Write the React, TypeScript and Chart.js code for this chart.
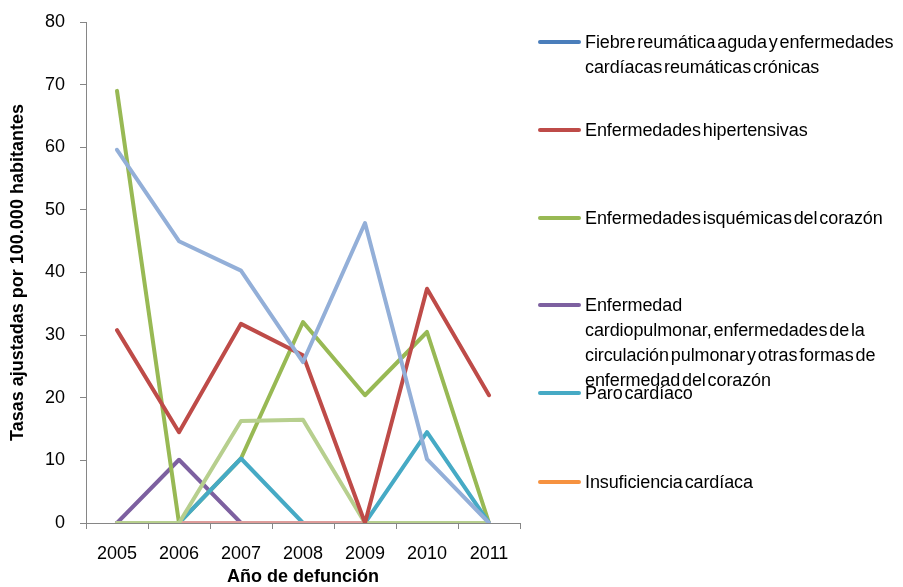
import React, { useEffect, useRef } from "react";
import { Chart, registerables } from "chart.js";

Chart.register(...registerables);

const years = ["2005", "2006", "2007", "2008", "2009", "2010", "2011"];

const fiebreReumatica = [0, 0, 0, 0, 0, 0, 0];
const hipertensivas = [30.8, 14.5, 31.8, 26.8, 0, 37.4, 20.4];
const isquemicas = [69, 0, 10.3, 32.1, 20.4, 30.5, 0];
const cardiopulmonar = [0, 10.1, 0, 0, 0, 0, 0];
const paroCardiaco = [0, 0, 10.3, 0, 0, 14.5, 0];
const insuficiencia = [0, 0, 0, 0, 0, 0, 0];
const serie7 = [59.6, 45, 40.3, 25.7, 47.9, 10.2, 0];
const serie8 = [0, 0, 0, 0, 0, 0, 0];
const serie9 = [0, 0, 16.3, 16.5, 0, 0, 0];

const seriesNames = [
  "Fiebre reumática aguda y enfermedades cardíacas reumáticas crónicas",
  "Enfermedades hipertensivas",
  "Enfermedades isquémicas del corazón",
  "Enfermedad cardiopulmonar, enfermedades de la circulación pulmonar y otras formas de enfermedad del corazón",
  "Paro cardíaco",
  "Insuficiencia cardíaca",
  "Serie 7",
  "Serie 8",
  "Serie 9",
];

const legendLines = [
  ["Fiebre reumática aguda y enfermedades", "cardíacas reumáticas crónicas"],
  ["Enfermedades hipertensivas"],
  ["Enfermedades isquémicas del corazón"],
  ["Enfermedad", "cardiopulmonar, enfermedades de la", "circulación pulmonar y otras formas de", "enfermedad del corazón"],
  ["Paro cardíaco"],
  ["Insuficiencia cardíaca"],
];

const colors = ["#4A7EBB", "#BE4B48", "#98B954", "#7D60A0", "#46AAC5", "#F69240", "#93AFD8", "#DE9C9A", "#B7CF8E"];
// lower order = drawn on top
const drawOrder = [8, 1, 5, 6, 4, 7, 0, 3, 2];

const allSeries = [fiebreReumatica, hipertensivas, isquemicas, cardiopulmonar, paroCardiaco, insuficiencia, serie7, serie8, serie9];

const yTicks = [0, 10, 20, 30, 40, 50, 60, 70, 80];

const FONT = "'Liberation Sans', Arial, sans-serif";

export default function App() {
  const ref = useRef<HTMLCanvasElement>(null);

  useEffect(() => {
    if (!ref.current) return;
    const chart = new Chart(ref.current, {
      type: "line",
      data: {
        labels: years,
        datasets: allSeries.map((d, i) => ({
          label: seriesNames[i],
          data: d,
          borderColor: colors[i],
          backgroundColor: colors[i],
          borderWidth: 4,
          pointRadius: 0,
          tension: 0,
          order: drawOrder[i],
          borderJoinStyle: "round" as const,
          borderCapStyle: "round" as const,
        })),
      },
      options: {
        animation: false,
        responsive: false,
        maintainAspectRatio: false,
        layout: { padding: { left: 0, right: 383, top: 22, bottom: 0 } },
        plugins: { legend: { display: false }, tooltip: { enabled: false } },
        scales: {
          x: {
            offset: true,
            grid: { display: true, drawOnChartArea: false, drawTicks: true, tickLength: 6, color: "#868686", offset: true },
            border: { display: true, color: "#868686", width: 1 },
            ticks: { color: "#000", font: { family: FONT, size: 18 }, padding: 14, maxRotation: 0 },
            title: {
              display: true,
              text: "Año de defunción",
              color: "#000",
              font: { family: FONT, size: 18, weight: "bold", lineHeight: 1 },
              padding: { top: 0, bottom: 1 },
            },
            afterFit: (s: any) => {
              s.height = 64;
            },
          },
          y: {
            min: 0,
            max: 80,
            afterBuildTicks: (s: any) => {
              s.ticks = yTicks.map((v) => ({ value: v }));
            },
            grid: { display: true, drawOnChartArea: false, drawTicks: true, tickLength: 6, color: "#868686" },
            border: { display: true, color: "#868686", width: 1 },
            ticks: { color: "#000", font: { family: FONT, size: 18 }, padding: 15 },
            title: {
              display: true,
              text: "Tasas ajustadas por 100.000 habitantes",
              color: "#000",
              font: { family: FONT, size: 18, weight: "bold", lineHeight: 1 },
              padding: { top: 9, bottom: 0 },
            },
            afterFit: (s: any) => {
              s.width = 86;
              s.paddingTop = 0;
              s.paddingBottom = 0;
            },
          },
        },
      },
    });
    return () => chart.destroy();
  }, []);

  const entryY = [42, 130, 218, 305, 393, 482];
  const lineH = 25;

  return (
    <div style={{ position: "absolute", left: 0, top: 0, width: 903, height: 587, background: "#fff", overflow: "hidden" }}>
      <canvas ref={ref} width={903} height={587} style={{ position: "absolute", left: 0, top: 0 }} />
      {legendLines.map((lines, i) => (
        <React.Fragment key={i}>
          <div
            style={{
              position: "absolute",
              left: 538,
              top: entryY[i] - 2,
              width: 43,
              height: 4,
              borderRadius: 2,
              background: colors[i],
            }}
          />
          <div
            style={{
              position: "absolute",
              left: 585,
              top: entryY[i] - lineH / 2,
              fontFamily: FONT,
              fontSize: 18,
              lineHeight: lineH + "px",
              color: "#000",
              whiteSpace: "nowrap",
              wordSpacing: -3,
              letterSpacing: -0.1,
            }}
          >
            {lines.map((l, j) => (
              <div key={j}>{l}</div>
            ))}
          </div>
        </React.Fragment>
      ))}
    </div>
  );
}
